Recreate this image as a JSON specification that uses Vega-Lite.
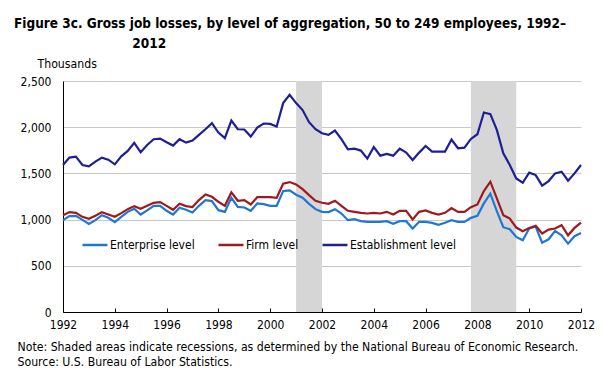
{
  "$schema": "https://vega.github.io/schema/vega-lite/v6.json",
  "width": 518,
  "height": 231,
  "autosize": "none",
  "padding": {"left": 63, "top": 81, "right": 23, "bottom": 62},
  "background": "white",
  "config": {
    "font": "Liberation Sans Narrow, DejaVu Sans Condensed, sans-serif",
    "view": {"stroke": null}
  },
  "title": {
    "text": ["Figure 3c. Gross job losses, by level of aggregation, 50 to 249 employees, 1992–", "\u200b\u00a0\u00a0\u00a0\u00a0\u00a0\u00a0\u00a0\u00a0\u00a0\u00a0\u00a0\u00a0\u00a0\u00a0\u00a0\u00a0\u00a0\u00a0\u00a0\u00a0\u00a0\u00a0\u00a0\u00a0\u00a0\u00a0\u00a0\u00a02012"],
    "anchor": "start",
    "frame": "group",
    "dx": -49,
    "fontSize": 13.5,
    "fontWeight": "bold",
    "color": "black",
    "lineHeight": 20,
    "offset": 7
  },
  "datasets": {
    "rec": [
      {"start": 2001, "end": 2002},
      {"start": 2007.75, "end": 2009.5}
    ],
    "jobs": [
      {"t": 1992.00, "Enterprise level": 994, "Firm level": 1048, "Establishment level": 1591},
      {"t": 1992.25, "Enterprise level": 1037, "Firm level": 1081, "Establishment level": 1671},
      {"t": 1992.50, "Enterprise level": 1041, "Firm level": 1073, "Establishment level": 1681},
      {"t": 1992.75, "Enterprise level": 997, "Firm level": 1030, "Establishment level": 1591},
      {"t": 1993.00, "Enterprise level": 954, "Firm level": 1008, "Establishment level": 1576},
      {"t": 1993.25, "Enterprise level": 994, "Firm level": 1041, "Establishment level": 1627},
      {"t": 1993.50, "Enterprise level": 1048, "Firm level": 1081, "Establishment level": 1671},
      {"t": 1993.75, "Enterprise level": 1019, "Firm level": 1055, "Establishment level": 1649},
      {"t": 1994.00, "Enterprise level": 972, "Firm level": 1030, "Establishment level": 1598},
      {"t": 1994.25, "Enterprise level": 1030, "Firm level": 1070, "Establishment level": 1685},
      {"t": 1994.50, "Enterprise level": 1084, "Firm level": 1113, "Establishment level": 1743},
      {"t": 1994.75, "Enterprise level": 1117, "Firm level": 1146, "Establishment level": 1830},
      {"t": 1995.00, "Enterprise level": 1055, "Firm level": 1117, "Establishment level": 1728},
      {"t": 1995.25, "Enterprise level": 1099, "Firm level": 1149, "Establishment level": 1808},
      {"t": 1995.50, "Enterprise level": 1149, "Firm level": 1182, "Establishment level": 1870},
      {"t": 1995.75, "Enterprise level": 1149, "Firm level": 1189, "Establishment level": 1877},
      {"t": 1996.00, "Enterprise level": 1095, "Firm level": 1149, "Establishment level": 1837},
      {"t": 1996.25, "Enterprise level": 1055, "Firm level": 1106, "Establishment level": 1801},
      {"t": 1996.50, "Enterprise level": 1128, "Firm level": 1171, "Establishment level": 1870},
      {"t": 1996.75, "Enterprise level": 1106, "Firm level": 1146, "Establishment level": 1833},
      {"t": 1997.00, "Enterprise level": 1077, "Firm level": 1136, "Establishment level": 1855},
      {"t": 1997.25, "Enterprise level": 1149, "Firm level": 1211, "Establishment level": 1917},
      {"t": 1997.50, "Enterprise level": 1211, "Firm level": 1272, "Establishment level": 1978},
      {"t": 1997.75, "Enterprise level": 1200, "Firm level": 1247, "Establishment level": 2043},
      {"t": 1998.00, "Enterprise level": 1102, "Firm level": 1193, "Establishment level": 1942},
      {"t": 1998.25, "Enterprise level": 1084, "Firm level": 1149, "Establishment level": 1881},
      {"t": 1998.50, "Enterprise level": 1236, "Firm level": 1294, "Establishment level": 2072},
      {"t": 1998.75, "Enterprise level": 1138, "Firm level": 1204, "Establishment level": 1978},
      {"t": 1999.00, "Enterprise level": 1131, "Firm level": 1211, "Establishment level": 1975},
      {"t": 1999.25, "Enterprise level": 1095, "Firm level": 1164, "Establishment level": 1899},
      {"t": 1999.50, "Enterprise level": 1175, "Firm level": 1243, "Establishment level": 1996},
      {"t": 1999.75, "Enterprise level": 1167, "Firm level": 1243, "Establishment level": 2040},
      {"t": 2000.00, "Enterprise level": 1149, "Firm level": 1243, "Establishment level": 2036},
      {"t": 2000.25, "Enterprise level": 1149, "Firm level": 1236, "Establishment level": 2007},
      {"t": 2000.50, "Enterprise level": 1309, "Firm level": 1388, "Establishment level": 2261},
      {"t": 2000.75, "Enterprise level": 1316, "Firm level": 1406, "Establishment level": 2351},
      {"t": 2001.00, "Enterprise level": 1269, "Firm level": 1381, "Establishment level": 2261},
      {"t": 2001.25, "Enterprise level": 1236, "Firm level": 1330, "Establishment level": 2185},
      {"t": 2001.50, "Enterprise level": 1171, "Firm level": 1265, "Establishment level": 2054},
      {"t": 2001.75, "Enterprise level": 1113, "Firm level": 1204, "Establishment level": 1978},
      {"t": 2002.00, "Enterprise level": 1084, "Firm level": 1182, "Establishment level": 1935},
      {"t": 2002.25, "Enterprise level": 1081, "Firm level": 1171, "Establishment level": 1917},
      {"t": 2002.50, "Enterprise level": 1113, "Firm level": 1204, "Establishment level": 1964},
      {"t": 2002.75, "Enterprise level": 1066, "Firm level": 1149, "Establishment level": 1870},
      {"t": 2003.00, "Enterprise level": 994, "Firm level": 1095, "Establishment level": 1761},
      {"t": 2003.25, "Enterprise level": 1004, "Firm level": 1084, "Establishment level": 1768},
      {"t": 2003.50, "Enterprise level": 983, "Firm level": 1073, "Establishment level": 1747},
      {"t": 2003.75, "Enterprise level": 976, "Firm level": 1066, "Establishment level": 1660},
      {"t": 2004.00, "Enterprise level": 976, "Firm level": 1073, "Establishment level": 1786},
      {"t": 2004.25, "Enterprise level": 976, "Firm level": 1066, "Establishment level": 1692},
      {"t": 2004.50, "Enterprise level": 983, "Firm level": 1084, "Establishment level": 1710},
      {"t": 2004.75, "Enterprise level": 954, "Firm level": 1055, "Establishment level": 1692},
      {"t": 2005.00, "Enterprise level": 983, "Firm level": 1095, "Establishment level": 1768},
      {"t": 2005.25, "Enterprise level": 983, "Firm level": 1095, "Establishment level": 1725},
      {"t": 2005.50, "Enterprise level": 903, "Firm level": 1001, "Establishment level": 1645},
      {"t": 2005.75, "Enterprise level": 976, "Firm level": 1084, "Establishment level": 1725},
      {"t": 2006.00, "Enterprise level": 976, "Firm level": 1099, "Establishment level": 1797},
      {"t": 2006.25, "Enterprise level": 965, "Firm level": 1073, "Establishment level": 1736},
      {"t": 2006.50, "Enterprise level": 943, "Firm level": 1055, "Establishment level": 1736},
      {"t": 2006.75, "Enterprise level": 965, "Firm level": 1073, "Establishment level": 1736},
      {"t": 2007.00, "Enterprise level": 994, "Firm level": 1124, "Establishment level": 1866},
      {"t": 2007.25, "Enterprise level": 976, "Firm level": 1084, "Establishment level": 1772},
      {"t": 2007.50, "Enterprise level": 976, "Firm level": 1084, "Establishment level": 1779},
      {"t": 2007.75, "Enterprise level": 1019, "Firm level": 1135, "Establishment level": 1873},
      {"t": 2008.00, "Enterprise level": 1041, "Firm level": 1164, "Establishment level": 1924},
      {"t": 2008.25, "Enterprise level": 1175, "Firm level": 1309, "Establishment level": 2159},
      {"t": 2008.50, "Enterprise level": 1280, "Firm level": 1410, "Establishment level": 2141},
      {"t": 2008.75, "Enterprise level": 1091, "Firm level": 1229, "Establishment level": 1971},
      {"t": 2009.00, "Enterprise level": 918, "Firm level": 1048, "Establishment level": 1718},
      {"t": 2009.25, "Enterprise level": 896, "Firm level": 1012, "Establishment level": 1591},
      {"t": 2009.50, "Enterprise level": 813, "Firm level": 914, "Establishment level": 1446},
      {"t": 2009.75, "Enterprise level": 777, "Firm level": 874, "Establishment level": 1399},
      {"t": 2010.00, "Enterprise level": 903, "Firm level": 910, "Establishment level": 1508},
      {"t": 2010.25, "Enterprise level": 925, "Firm level": 932, "Establishment level": 1482},
      {"t": 2010.50, "Enterprise level": 751, "Firm level": 849, "Establishment level": 1367},
      {"t": 2010.75, "Enterprise level": 787, "Firm level": 892, "Establishment level": 1417},
      {"t": 2011.00, "Enterprise level": 878, "Firm level": 903, "Establishment level": 1500},
      {"t": 2011.25, "Enterprise level": 831, "Firm level": 939, "Establishment level": 1519},
      {"t": 2011.50, "Enterprise level": 740, "Firm level": 830, "Establishment level": 1421},
      {"t": 2011.75, "Enterprise level": 820, "Firm level": 910, "Establishment level": 1500},
      {"t": 2012.00, "Enterprise level": 856, "Firm level": 968, "Establishment level": 1591}
    ]
  },
  "layer": [
    {
      "data": {"name": "rec"},
      "mark": {"type": "rect", "color": "#D6D6D6"},
      "encoding": {
        "x": {"field": "start", "type": "quantitative", "scale": {"domain": [1992, 2012], "nice": false, "zero": false}},
        "x2": {"field": "end"}
      }
    },
    {
      "data": {"name": "jobs"},
      "transform": [{"fold": ["Enterprise level", "Firm level", "Establishment level"], "as": ["series", "value"]}],
      "mark": {"type": "line", "strokeWidth": 2.2},
      "encoding": {
        "x": {
          "field": "t", "type": "quantitative",
          "scale": {"domain": [1992, 2012], "nice": false, "zero": false},
          "axis": {
            "values": [1992, 1993, 1994, 1995, 1996, 1997, 1998, 1999, 2000, 2001, 2002, 2003, 2004, 2005, 2006, 2007, 2008, 2009, 2010, 2011, 2012],
            "format": "d",
            "labelExpr": "datum.value % 2 == 0 ? datum.label : ''",
            "grid": false,
            "tickSize": -4,
            "tickColor": "black",
            "domainColor": "black",
            "labelColor": "black",
            "labelFontSize": 12,
            "labelPadding": 11,
            "labelFlush": false,
            "labelOverlap": false,
            "title": ["Note: Shaded areas indicate recessions, as determined by the National Bureau of Economic Research.", "Source: U.S. Bureau of Labor Statistics."],
            "titleAnchor": "start",
            "titleAlign": "left",
            "titleBaseline": "alphabetic",
            "titleX": -46,
            "titleY": 38,
            "titleFontSize": 12.2,
            "titleFontWeight": "normal",
            "titleColor": "black",
            "titleLineHeight": 15
          }
        },
        "y": {
          "field": "value", "type": "quantitative",
          "scale": {"domain": [0, 2500], "nice": false},
          "axis": {
            "values": [0, 500, 1000, 1500, 2000, 2500],
            "format": ",d",
            "ticks": false,
            "grid": true,
            "gridColor": "#C8C8C8",
            "domainColor": "black",
            "labelColor": "black",
            "labelFontSize": 12,
            "labelPadding": 12,
            "title": "Thousands",
            "titleAngle": 0,
            "titleAlign": "left",
            "titleBaseline": "alphabetic",
            "titleX": -26,
            "titleY": -14,
            "titleFontSize": 12.2,
            "titleFontWeight": "normal",
            "titleColor": "black"
          }
        },
        "color": {
          "field": "series", "type": "nominal",
          "scale": {"domain": ["Enterprise level", "Firm level", "Establishment level"], "range": ["#1E78D2", "#9E1A1E", "#1E1E96"]},
          "legend": {
            "orient": "none",
            "legendX": 18,
            "legendY": 150,
            "direction": "horizontal",
            "title": null,
            "symbolType": "stroke",
            "symbolStrokeWidth": 2.5,
            "symbolSize": 625,
            "labelFontSize": 12,
            "labelColor": "black",
            "labelOffset": 1,
            "columnPadding": 18
          }
        }
      }
    },
    {
      "mark": {"type": "rule", "color": "black", "strokeWidth": 1},
      "encoding": {"x": {"datum": 2012, "type": "quantitative"}}
    }
  ]
}
